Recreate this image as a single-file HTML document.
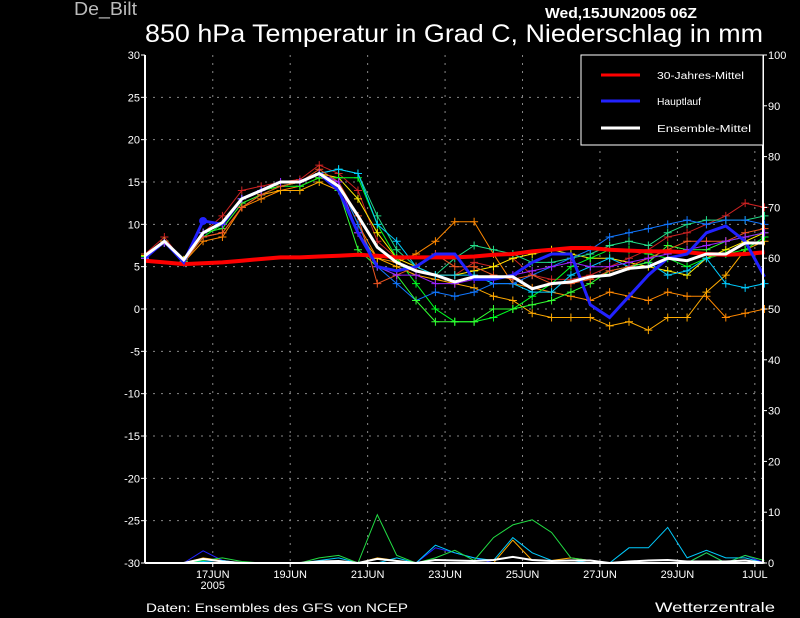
<!DOCTYPE html>
<html><head><meta charset="utf-8">
<style>
html,body{margin:0;padding:0;background:#000;}
svg{display:block;font-family:"Liberation Sans","DejaVu Sans",sans-serif;}
</style></head>
<body>
<svg id="chart" width="800" height="618" viewBox="0 0 800 618">
<rect width="800" height="618" fill="#000"/>
<text x="74" y="15" fill="#bbb" font-size="18" textLength="63" lengthAdjust="spacingAndGlyphs">De_Bilt</text>
<text x="545" y="18" fill="#fff" font-size="15" font-weight="bold" textLength="152" lengthAdjust="spacingAndGlyphs">Wed,15JUN2005 06Z</text>
<text x="145" y="42" fill="#fff" font-size="25" textLength="618" lengthAdjust="spacingAndGlyphs">850 hPa Temperatur in Grad C, Niederschlag in mm</text>
<text x="146" y="612" fill="#fff" font-size="12" textLength="262" lengthAdjust="spacingAndGlyphs">Daten: Ensembles des GFS von NCEP</text>
<text x="655" y="612" fill="#fff" font-size="14" textLength="120" lengthAdjust="spacingAndGlyphs">Wetterzentrale</text>
<g id="grid"></g>
<g id="series"></g>
<g id="axes"></g>
<g id="legend">
<rect x="581" y="55" width="182" height="90" fill="#000" stroke="#fff" stroke-width="1"/>
<line x1="601" y1="75" x2="640" y2="75" stroke="#f00" stroke-width="3"/>
<text x="657" y="79" fill="#fff" font-size="10" textLength="87" lengthAdjust="spacingAndGlyphs">30-Jahres-Mittel</text>
<line x1="601" y1="101" x2="640" y2="101" stroke="#22f" stroke-width="3"/>
<text x="657" y="105" fill="#fff" font-size="10" textLength="44" lengthAdjust="spacingAndGlyphs">Hauptlauf</text>
<line x1="601" y1="128" x2="640" y2="128" stroke="#fff" stroke-width="3"/>
<text x="657" y="132" fill="#fff" font-size="10" textLength="94" lengthAdjust="spacingAndGlyphs">Ensemble-Mittel</text>
</g>
</svg>
<script>
const dateLabels = ["17JUN","19JUN","21JUN","23JUN","25JUN","27JUN","29JUN","1JUL"];
const dateIdx = [3.5,7.5,11.5,15.5,19.5,23.5,27.5,31.5];
const leftTicks = [30,25,20,15,10,5,0,-5,-10,-15,-20,-25,-30];
const rightTicks = [100,90,80,70,60,50,40,30,20,10,0];
const climate = [5.7,5.5,5.3,5.4,5.5,5.7,5.9,6.1,6.1,6.2,6.3,6.4,6.3,6.1,6.1,6.1,6.1,6.2,6.4,6.5,6.8,7.0,7.2,7.2,7.0,6.9,6.8,6.8,6.7,6.5,6.4,6.5,6.7];
const mainRun = [6,8,5.5,10.4,10,13,14,15,15,16,14,9,5,4.5,5,6.5,6.5,3.5,3.5,4,5.5,6.5,6.5,0.5,-1,1.5,4,6,6.5,9,9.8,8,3.8];
const ensMean = [6.3,8,5.8,9,10.2,13,14,15,15,16,14.5,11,7.3,5.5,4.5,4,3.2,3.8,3.8,3.8,2.4,3,3.2,3.8,4,4.8,5,6,5.7,6.5,6.5,7.8,7.8];
const members = [
 {c:"#ff8800",v:[6.5,8,5.5,8,8.5,12,13,14,14.5,15.5,15,10,6,5.5,6.5,8,10.3,10.3,6.5,3,2.5,2,1.5,1,2,1.5,1,2,1.5,1.5,-1,-0.5,0]},
 {c:"#ffaa00",v:[6,7.8,5.5,8.5,9,12,13.5,14,14,15,14,9,6,5,4,3.5,3,2.5,1.5,1,-0.5,-1,-1,-1,-2,-1.5,-2.5,-1,-1,2,4,7,8]},
 {c:"#cc2222",v:[6.5,8.5,5.5,9,11,14,14.5,15,15.3,17,16,14,8,6,5,4,4,5.5,5,6,4,3.5,3.5,4,5,6,7,8.5,9,10,11,12.5,12]},
 {c:"#ffee00",v:[6.3,8,5.8,9,10,13,14,14.5,15,16,15.5,13,9,6,5,4,4,4.5,5,6,6.5,7,6.5,6,6,5.5,5,4.5,4,6,7,8,9]},
 {c:"#00ff22",v:[6,7.8,5.5,8.5,10,13,14,14.5,14.5,15.5,15.5,15.5,10,6,3,0,-1.5,-1.5,-1,0,1.5,3,5,6,7,7,6.5,6,5,6,6.5,7,8.5]},
 {c:"#22dd88",v:[6.2,8,5.6,9,10,13,14,15,15,16,16.5,16,11,7,5,4,6,7.5,7,6.5,5.5,5.5,6,6.5,7.5,8,7.5,9,10,10.5,10.5,10.5,11]},
 {c:"#00ccff",v:[6,7.8,5.5,9,10,13,14,15,15,16,16.5,16,10,8,5,4,4,4,3,3,2,2,4,5,6,5,5.5,4,4.5,6,3,2.5,3]},
 {c:"#1177ff",v:[6,7.8,5.5,9,10,13,14,15,15,16,15,10,5,3,1,2,1.5,2,3,3,4,5,6,7,8.5,9,9.5,10,10.5,10,10.5,10.5,10]},
 {c:"#33ff33",v:[6.2,8,5.6,9,9.5,12.5,13.5,14.5,15,16,14,7,5,4,1,-1.5,-1.5,-1.5,0,0,0.5,1,2,3,4.5,5,5.5,7.5,7,7,8,8.5,9]},
 {c:"#ee5522",v:[6.5,8,5.5,8.5,9,12,13.5,14.5,15,16.5,15,11,3,4,5,6.5,5,5,4,3.5,4,3,3,3.5,4.5,5,6,7,8,8,8,9,9.5]},
 {c:"#9922ff",v:[6,7.8,5.5,9,10,13,14,15,15,16,15,9,5,4,4,3,3,3.5,3.5,4,4.5,5,5.5,5,5,5.5,6,6.5,7,7.5,8,8.5,9]}
];
const precipGreen = [0,0,0,0.5,1,0.3,0,0,0,1,1.5,0,9.5,1.5,0,1,2.5,0.5,5,7.5,8.5,6,1,0.5,0,0,0,0,0,2,0,1.5,0.5];
const precipCyan = [0,0,0,0.3,0.5,0,0,0,0,0.5,1,0,0,1,0,3.5,2,1,0.5,5,2,0.5,0.5,0,0,3,3,7,1,2.5,1,1,0];
const precipBlue = [0,0,0,2.4,0.5,0,0,0,0,0,0,0,0,0,0,3,2,1,0,0,0,0,0,0,0,0,0,0,0,2,0,1.5,0];
const precipOrange = [0,0,0,1,0.5,0,0,0,0,0,0,0,1,0.5,0,0,0,0,0,4.5,0.5,0.5,1,0.5,0,0,0,0,0,0,0,0,0];
const precipMean = [0,0,0,0.8,0.3,0,0,0,0,0.3,0.4,0,0.8,0.4,0,0.6,0.5,0.4,0.6,1.2,0.6,0.4,0.5,0.5,0,0.3,0.5,0.6,0.3,0.3,0.3,0.5,0];

const NS="http://www.w3.org/2000/svg";
const X0=145,X1=763,Y0=55,Y1=563,STEP=19.36;
function xs(i){return X0+i*STEP;}
function yT(v){return Y0+(30-v)*(Y1-Y0)/60;}
function yP(v){return Y1-v*(Y1-Y0)/100;}
function mk(tag,attrs,parent){const e=document.createElementNS(NS,tag);for(const k in attrs)e.setAttribute(k,attrs[k]);parent.appendChild(e);return e;}
const grid=document.getElementById('grid'),ser=document.getElementById('series'),ax=document.getElementById('axes');

leftTicks.forEach(t=>{
  const y=yT(t);
  if(t>-30&&t<30){const g=mk('line',{x1:X0,x2:X1,y1:y,y2:y,stroke:'#888','stroke-dasharray':'2,6'},grid);
  
  }
  mk('line',{x1:X0-4,x2:X0,y1:y,y2:y,stroke:'#fff'},ax);
  const tx=mk('text',{x:X0-5,y:y+4,fill:'#fff','font-size':11,'text-anchor':'end'},ax);
  tx.textContent=t;
  
  
});
rightTicks.forEach(t=>{
  const y=yP(t);
  mk('line',{x1:X1,x2:X1+4,y1:y,y2:y,stroke:'#fff'},ax);
  const tx=mk('text',{x:X1+5,y:y+4,fill:'#fff','font-size':11},ax);
  tx.textContent=t;
  
  
});
dateLabels.forEach((d,k)=>{
  const x=xs(dateIdx[k]);
  const g=mk('line',{x1:x,x2:x,y1:Y0,y2:Y1,stroke:'#888','stroke-dasharray':'2,6'},grid);
  
  
  mk('line',{x1:x,x2:x,y1:Y1,y2:Y1+4,stroke:'#fff'},ax);
  const tx=mk('text',{x:x,y:Y1+15,fill:'#fff','font-size':11,'text-anchor':'middle'},ax);
  tx.textContent=d;
  
  
});
const yr=mk('text',{x:xs(dateIdx[0]),y:Y1+26,fill:'#fff','font-size':11,'text-anchor':'middle'},ax);
yr.textContent='2005';


mk('line',{x1:X0,x2:X0,y1:Y0,y2:Y1,stroke:'#fff','stroke-width':2},ax);
mk('line',{x1:X1,x2:X1,y1:Y0,y2:Y1,stroke:'#fff','stroke-width':2},ax);
mk('line',{x1:X0,x2:X1,y1:Y1,y2:Y1,stroke:'#fff','stroke-width':2},ax);

function line(vals,yf,color,w,name,markers){
  const pts=vals.map((v,i)=>xs(i).toFixed(1)+','+yf(v).toFixed(1)).join(' ');
  const p=mk('polyline',{points:pts,fill:'none',stroke:color,'stroke-width':w},ser);
  
  
  if(markers){vals.forEach((v,i)=>{const x=xs(i),y=yf(v);
    mk('path',{d:`M${x-4},${y}h8M${x},${y-4}v8`,stroke:color,'stroke-width':1},ser);});}
}
line(precipOrange,yP,'#ffaa00',1,'precip-orange',false);
line(precipBlue,yP,'#2222ff',1,'precip-blue',false);
line(precipCyan,yP,'#00ccff',1,'precip-cyan',false);
line(precipGreen,yP,'#22dd44',1,'precip-green',false);
line(precipMean,yP,'#fff',2,'precip-mean',false);
members.forEach((m,k)=>line(m.v,yT,m.c,1,'ensemble-member',true));
line(climate,yT,'#ff0000',4,'climate-mean-line',false);
line(mainRun,yT,'#2222ff',3,'main-run-line',false);
line(ensMean,yT,'#ffffff',3,'ensemble-mean-line',false);
const dot=mk('circle',{cx:xs(3),cy:yT(mainRun[3]),r:4,fill:'#2222ff'},ser);


</script>
</body></html>
